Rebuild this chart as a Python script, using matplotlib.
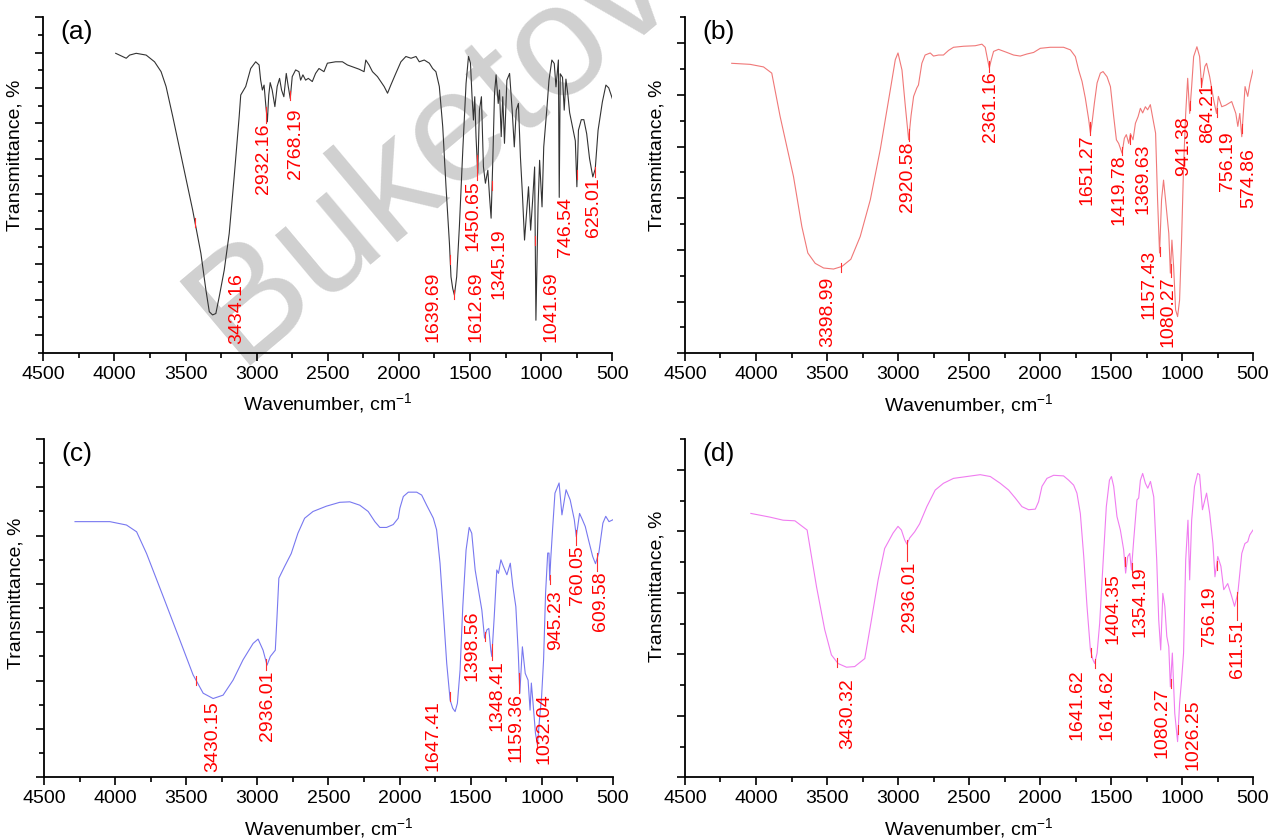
import numpy as np
import matplotlib.pyplot as plt
from matplotlib.ticker import MultipleLocator

plt.rcParams['font.family'] = ['Liberation Sans', 'DejaVu Sans']
plt.rcParams['mathtext.default'] = 'regular'

# (a) spectrum
wn_a = [3991, 3917, 3893, 3847, 3777, 3718, 3672, 3637, 3590, 3520, 3450, 3392, 3357, 3333,
        3310, 3287, 3263, 3228, 3193, 3158, 3123, 3112, 3077, 3042, 3007, 2983, 2972, 2960,
        2948, 2937, 2925, 2915, 2905, 2891, 2872, 2856, 2839, 2825, 2809, 2792, 2778, 2764,
        2750, 2726, 2703, 2691, 2675, 2656, 2637, 2609, 2586, 2562, 2527, 2503, 2445, 2397,
        2362, 2327, 2280, 2245, 2233, 2210, 2186, 2151, 2104, 2080, 2057, 2022, 1986, 1951,
        1915, 1880, 1857, 1822, 1786, 1763, 1740, 1716, 1692, 1669, 1645, 1634, 1622, 1610,
        1594, 1575, 1551, 1528, 1511, 1497, 1486, 1476, 1467, 1458, 1446, 1434, 1420, 1406,
        1392, 1375, 1363, 1352, 1340, 1328, 1317, 1302, 1293, 1281, 1270, 1258, 1241, 1222,
        1204, 1189, 1175, 1160, 1146, 1132, 1117, 1103, 1089, 1074, 1060, 1046, 1037, 1022,
        1011, 994, 982, 959, 945, 925, 908, 896, 879, 873, 866, 850, 838, 826, 812, 800, 785,
        760, 749, 738, 718, 700, 680, 660, 637, 620, 600, 570, 545, 525, 500]
tr_a = [79.8, 78.4, 79.3, 79.8, 79.3, 77.4, 74.6, 70.4, 61.9, 48.6, 35.4, 23.1, 12.8, 6.6,
        5.7, 6.1, 10.9, 18.4, 28.8, 44.9, 61.9, 68.0, 70.4, 75.5, 77.4, 76.5, 72.2, 69.4,
        70.8, 65.6, 60.4, 68.0, 71.5, 69.4, 64.7, 70.4, 72.7, 69.4, 67.5, 74.1, 70.4, 67.0,
        73.2, 75.1, 74.6, 72.2, 73.7, 72.2, 72.7, 71.8, 74.1, 75.5, 74.6, 77.0, 77.4, 77.4,
        76.5, 76.0, 75.3, 74.6, 77.9, 76.5, 74.6, 73.2, 70.4, 68.5, 70.8, 74.1, 77.4, 78.9,
        78.4, 78.9, 77.4, 77.9, 77.0, 75.5, 74.6, 70.4, 59.0, 42.0, 26.0, 16.5, 13.2, 11.3,
        16.5, 30.7, 52.4, 71.3, 78.9, 77.0, 67.5, 60.9, 67.5, 56.2, 45.8, 63.7, 67.5, 47.7,
        43.0, 46.7, 39.2, 33.1, 49.6, 68.5, 73.7, 65.6, 69.4, 56.2, 67.5, 54.3, 72.2, 74.1,
        63.7, 53.3, 63.7, 65.6, 50.5, 40.0, 26.9, 34.4, 42.0, 29.7, 38.2, 47.6, 4.2, 36.3,
        49.5, 36.3, 53.3, 64.6, 72.2, 77.9, 76.9, 70.3, 77.9, 39.0, 74.0, 73.0, 63.7, 72.5,
        68.0, 63.0, 60.0, 55.0, 42.0, 58.0, 61.0, 61.0, 57.0, 50.0, 44.8, 47.0, 58.0, 66.0,
        70.8, 70.0, 67.0]
peaks_a = [3434.16, 2932.16, 2768.19, 1639.69, 1612.69, 1450.65, 1345.19, 1041.69, 746.54, 625.01]

# (b) spectrum
wn_b = [4171, 4042, 3947, 3889, 3830, 3736, 3677, 3635, 3583, 3524, 3454, 3395, 3332, 3266,
        3195, 3125, 3054, 3019, 3000, 2972, 2948, 2925, 2908, 2890, 2868, 2856, 2832, 2809,
        2773, 2750, 2715, 2680, 2644, 2609, 2538, 2456, 2409, 2386, 2369, 2357, 2343, 2327,
        2292, 2233, 2186, 2139, 2092, 2045, 1998, 1928, 1834, 1786, 1751, 1728, 1704, 1681,
        1657, 1645, 1634, 1617, 1598, 1575, 1556, 1528, 1504, 1481, 1462, 1446, 1422, 1406,
        1392, 1375, 1363, 1345, 1328, 1309, 1293, 1277, 1258, 1242, 1223, 1199, 1186, 1172,
        1158, 1144, 1130, 1116, 1093, 1082, 1071, 1059, 1045, 1031, 1017, 1003, 989, 974,
        960, 946, 932, 918, 895, 876, 862, 839, 827, 805, 777, 757, 744, 720, 692, 650, 621,
        607, 593, 579, 556, 537, 522, 500]
tr_b = [56.1, 55.9, 55.4, 54.2, 45.8, 34.2, 24.5, 19.4, 17.4, 16.5, 16.3, 16.8, 18.2, 22.6,
        29.7, 39.4, 51.0, 56.8, 58.1, 54.8, 47.7, 41.3, 46.0, 49.7, 51.3, 51.9, 56.1, 57.7,
        58.1, 57.5, 57.7, 57.7, 58.6, 59.2, 59.4, 59.5, 59.8, 59.2, 56.8, 55.2, 56.8, 58.4,
        58.8, 58.2, 57.7, 57.5, 57.9, 58.2, 59.0, 59.2, 59.2, 58.7, 57.4, 54.8, 52.6, 49.4,
        45.2, 42.6, 44.5, 48.4, 52.3, 54.2, 54.5, 53.5, 51.6, 45.8, 41.3, 40.6, 38.7, 41.6,
        42.3, 40.6, 42.5, 41.3, 44.5, 45.8, 47.4, 46.5, 47.7, 47.1, 48.1, 44.5, 42.6, 29.7,
        19.4, 29.7, 33.5, 29.7, 23.2, 15.5, 21.9, 16.8, 8.4, 7.1, 10.3, 21.9, 36.1, 46.4,
        53.2, 46.4, 51.6, 57.4, 59.3, 57.4, 51.6, 55.5, 56.1, 53.5, 49.0, 46.4, 49.7, 47.7,
        48.0, 48.7, 46.4, 43.9, 46.4, 41.9, 51.6, 49.7, 52.2, 54.8]
peaks_b = [3398.99, 2920.58, 2361.16, 1651.27, 1419.78, 1369.63, 1157.43, 1080.27, 941.38,
           864.21, 756.19, 574.86]

# (c) spectrum
wn_c = [4282, 4037, 3920, 3849, 3779, 3662, 3545, 3452, 3381, 3311, 3241, 3171, 3101, 3030,
        2995, 2960, 2932, 2909, 2890, 2874, 2862, 2849, 2809, 2762, 2715, 2668, 2609, 2515,
        2421, 2350, 2280, 2221, 2174, 2139, 2092, 2045, 2010, 1998, 1974, 1939, 1880, 1845,
        1810, 1775, 1763, 1740, 1716, 1692, 1669, 1645, 1627, 1610, 1594, 1575, 1556, 1533,
        1511, 1493, 1469, 1446, 1422, 1403, 1387, 1373, 1359, 1352, 1335, 1317, 1305, 1288,
        1270, 1246, 1222, 1204, 1183, 1166, 1155, 1137, 1117, 1097, 1083, 1074, 1060, 1045,
        1031, 1017, 1002, 988, 974, 959, 950, 945, 938, 925, 908, 879, 859, 830, 801, 772,
        758, 735, 715, 695, 672, 643, 623, 600, 571, 551, 528, 500]
tr_c = [52.9, 52.9, 52.2, 50.8, 46.3, 37.4, 28.4, 21.2, 17.4, 16.3, 17.0, 20.1, 24.3, 27.7,
        28.6, 26.3, 23.2, 25.0, 25.7, 26.3, 33.2, 41.2, 43.6, 46.3, 50.5, 53.6, 55.0, 56.1,
        56.9, 57.0, 56.3, 55.0, 52.9, 51.7, 51.7, 52.3, 53.6, 55.7, 58.1, 59.0, 59.0, 58.4,
        56.3, 54.3, 53.6, 51.2, 44.3, 33.9, 23.6, 16.0, 14.3, 13.6, 15.3, 22.2, 35.3, 47.0,
        51.7, 50.5, 42.9, 38.8, 34.6, 28.8, 30.5, 30.8, 26.3, 25.0, 33.2, 42.9, 42.2, 45.0,
        43.6, 41.9, 44.3, 39.5, 35.3, 25.7, 17.4, 27.0, 21.5, 20.1, 13.9, 19.5, 14.6, 9.1,
        6.7, 11.9, 16.7, 24.3, 38.1, 46.4, 46.4, 40.8, 45.0, 51.2, 58.8, 60.9, 54.3, 59.5,
        57.4, 53.3, 49.8, 54.6, 53.3, 51.9, 49.1, 45.7, 44.2, 46.4, 52.6, 54.0, 52.9, 53.3]
peaks_c = [3430.15, 2936.01, 1647.41, 1398.56, 1348.41, 1159.36, 1032.04, 945.23, 760.05, 609.58]

# (d) spectrum
wn_d = [4036, 3902, 3809, 3726, 3640, 3574, 3516, 3469, 3422, 3363, 3305, 3234, 3187, 3140,
        3094, 3035, 3000, 2976, 2953, 2937, 2918, 2883, 2848, 2797, 2738, 2680, 2609, 2515,
        2421, 2350, 2280, 2221, 2174, 2127, 2080, 2033, 2010, 1986, 1951, 1904, 1834, 1798,
        1763, 1740, 1716, 1692, 1669, 1645, 1627, 1615, 1598, 1580, 1556, 1533, 1511, 1497,
        1481, 1458, 1434, 1411, 1397, 1382, 1368, 1356, 1340, 1317, 1305, 1293, 1277, 1258,
        1241, 1222, 1199, 1178, 1164, 1150, 1135, 1121, 1107, 1093, 1082, 1068, 1051, 1031,
        1017, 1003, 989, 974, 958, 946, 932, 912, 890, 876, 856, 827, 805, 782, 768, 748, 726,
        706, 678, 650, 630, 607, 579, 557, 537, 523, 500]
tr_d = [42.9, 42.3, 41.8, 41.7, 40.2, 31.0, 24.0, 19.9, 18.5, 17.9, 18.0, 19.3, 25.6, 32.1,
        37.2, 39.7, 40.8, 40.2, 38.6, 37.9, 38.9, 39.9, 41.2, 44.0, 46.7, 47.8, 48.6, 48.9,
        49.2, 48.9, 47.8, 46.7, 45.4, 44.0, 43.5, 43.6, 44.8, 47.3, 48.6, 49.1, 49.0, 48.3,
        47.5, 46.2, 42.9, 35.9, 27.8, 20.7, 19.1, 18.5, 20.2, 25.0, 34.8, 44.0, 48.3, 48.9,
        47.3, 42.4, 40.2, 37.0, 33.2, 35.9, 36.4, 33.7, 38.6, 45.1, 45.4, 48.3, 49.4, 47.8,
        47.0, 48.1, 45.6, 35.3, 25.6, 20.7, 29.9, 27.8, 22.9, 21.2, 14.7, 20.2, 10.4, 5.8,
        12.0, 15.8, 20.2, 35.3, 41.8, 32.1, 41.8, 47.3, 49.4, 49.2, 43.5, 46.2, 42.9, 38.0,
        32.6, 35.9, 34.3, 30.5, 31.5, 29.4, 27.8, 29.9, 36.4, 38.0, 38.3, 39.4, 40.2]
peaks_d = [3430.32, 2936.01, 1641.62, 1614.62, 1404.35, 1354.19, 1080.27, 1026.25, 756.19, 611.51]

# label placement: (shift along x in cm-1, top of text in y units)
place_a = [(-292, 17.5), (21, 60), (-42, 64.2), (123, 17.9), (-156, 17.9), (30, 43.9),
           (-52, 30.2), (-112, 17.9), (83, 39.1), (4, 44.8)]
place_b = [(97, 14.8), (11, 41), (-11, 54.5), (18, 42.3), (26, 38.4), (-96, 40.6),
           (77, 20), (21, 14.8), (48, 45.8), (-45, 52.2), (-78, 42.9), (-47, 39.7)]
place_c = [(-119, 15.7), (-4, 22.2), (116, 16), (94, 34.6), (-31, 24.3), (24, 17.4),
           (-44, 17.4), (-43, 38.8), (-8, 48.1), (-24, 42.6)]
place_d = [(-79, 16.1), (-14, 35.1), (98, 17.5), (-87, 17.5), (82, 33.2), (-61, 34.3),
           (64, 14.7), (-102, 12.6), (49, 31), (-4, 25.6)]

fig = plt.figure(figsize=(12.69, 8.39), dpi=100)
W, H = 1269, 839

panels = [
    ('(a)', wn_a, tr_a, peaks_a, place_a, '#333333', (-5, 90), (43.3, 17.3, 569, 335.4), 0.59),
    ('(b)', wn_b, tr_b, peaks_b, place_b, '#f07878', (0, 65), (685, 17.3, 568, 336), 0.59),
    ('(c)', wn_c, tr_c, peaks_c, place_c, '#7878f0', (0, 70), (44, 439, 569, 338.3), 0.545),
    ('(d)', wn_d, tr_d, peaks_d, place_d, '#f07cf0', (0, 55), (685, 439, 568, 338.3), 0.565),
]

for tag, wn, tr, peaks, place, color, ylim, box, ylab_y in panels:
    x0, y0, bw, bh = box
    ax = fig.add_axes([x0 / W, 1 - (y0 + bh) / H, bw / W, bh / H])
    ax.set_facecolor('none')
    ax.plot(wn, tr, color=color, lw=0.8)
    ax.set_xlim(4500, 500)
    ax.set_ylim(*ylim)

    for s in ['top', 'right']:
        ax.spines[s].set_visible(False)
    for s in ['left', 'bottom']:
        ax.spines[s].set_linewidth(1.3)

    ax.xaxis.set_major_locator(MultipleLocator(500))
    ax.xaxis.set_minor_locator(MultipleLocator(250))
    ax.yaxis.set_major_locator(MultipleLocator(10))
    ax.yaxis.set_minor_locator(MultipleLocator(5))
    ax.tick_params(which='major', length=6, width=1.2, labelsize=14)
    ax.tick_params(which='minor', length=3.5, width=1.2)
    ax.tick_params(axis='y', which='both', labelleft=False)

    ax.set_xlabel('Wavenumber, cm$^{-1}$', fontsize=14, labelpad=6)
    ax.set_ylabel('Transmittance, %', fontsize=14, labelpad=10)
    ax.yaxis.set_label_coords(-0.035, ylab_y)
    ax.text(0.03, 0.955, tag, transform=ax.transAxes, fontsize=19,
            ha='left', va='center')

    # peak markers and their labels
    ppu = bh / (ylim[1] - ylim[0])
    for p, (dw, top) in zip(peaks, place):
        tc = np.interp(p, wn[::-1], tr[::-1])
        lo = tc - 5 / ppu
        if abs(dw) < 40 and top < tc:
            lo = top
        ax.plot([p, p], [tc + 4 / ppu, lo], color='#ff3030', lw=0.8)
        ax.text(p + dw, top, f'{p:.2f}', rotation=90, ha='center', va='top',
                color='red', fontsize=14)

fig.text(432 / W, 1 - 148 / H, 'Buketov', rotation=40, fontsize=115,
         color='#d0d0d0', ha='center', va='center', zorder=-1)

fig.savefig('out.png', dpi=100, facecolor='white')
